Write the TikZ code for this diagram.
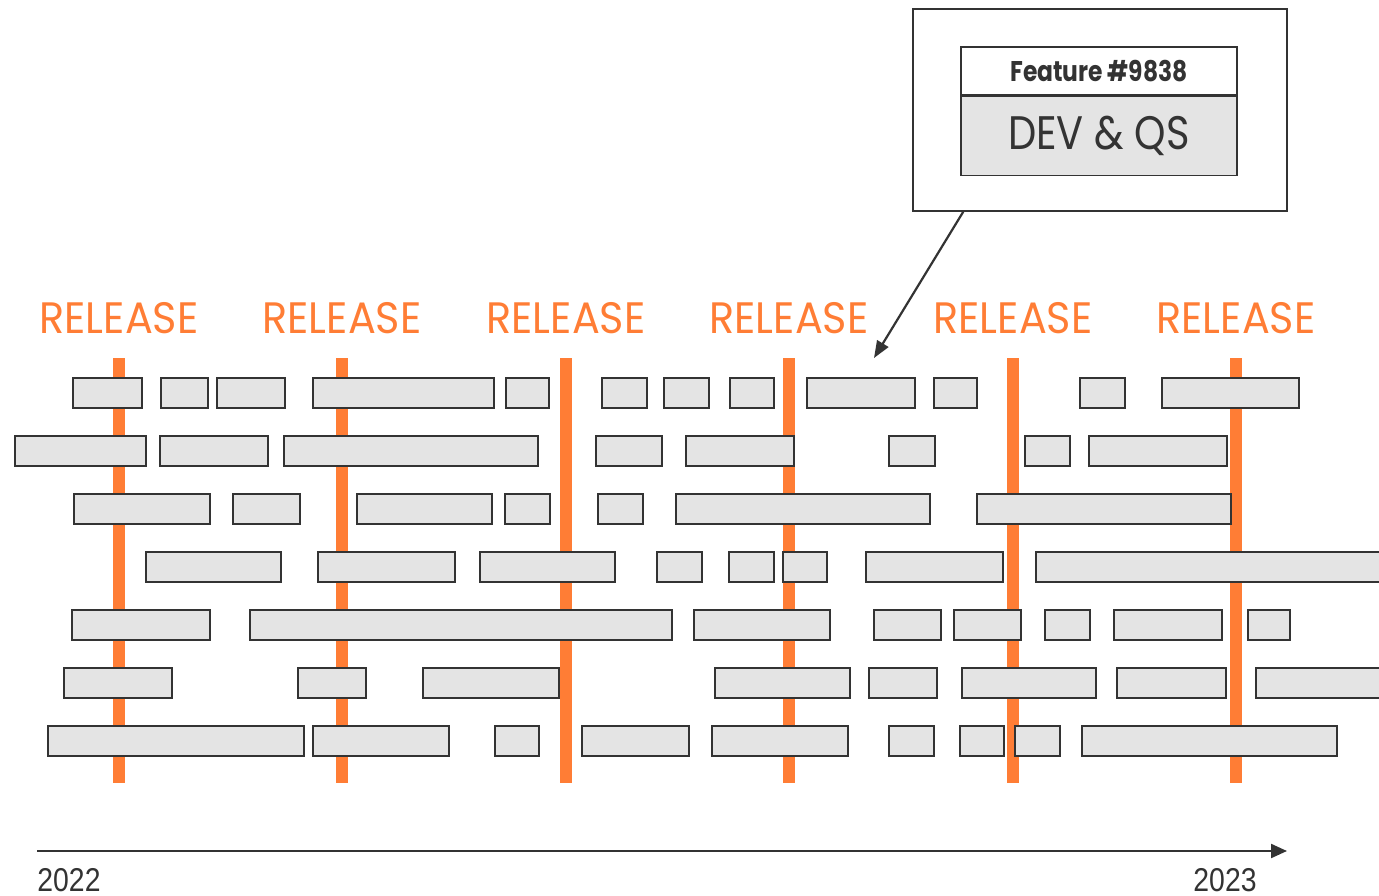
\documentclass[tikz,border=0pt]{standalone}
\usepackage{fontspec}
\usetikzlibrary{arrows.meta,positioning}
\newfontfamily\relfont[FakeStretch=0.94]{Poppins}
\newfontfamily\devfont[FakeStretch=0.85]{Poppins}
\newfontfamily\featfont[FakeStretch=0.82]{Poppins}
\newfontfamily\yearfont[FakeStretch=0.86]{Liberation Sans}
\definecolor{relorange}{HTML}{FF7D35}
\definecolor{darkline}{HTML}{333333}
\definecolor{barfill}{HTML}{E4E4E4}
\tikzset{every picture/.append style={x=1pt,y=-1pt}}

\begin{document}
\begin{tikzpicture}
  \tikzstyle{bar}=[rectangle,draw=darkline,fill=barfill,line width=1.5pt,inner sep=0pt,minimum height=30pt]
  \tikzstyle{release}=[relorange,line width=12pt]
  \tikzstyle{reltext}=[relorange,anchor=base,inner sep=0pt,font=\relfont\fontsize{44}{44}\selectfont]
  \tikzstyle{year}=[darkline,anchor=base,inner sep=0pt,font=\yearfont\fontsize{33}{33}\selectfont]
  \useasboundingbox (0,0) rectangle (1379,896);
  % release lines and labels
  \foreach \x in {119,342,566,789,1013,1236} {
    \coordinate (top\x) at (\x,358);
    \coordinate (bot\x) at (\x,783);
    \draw[release] (top\x) -- (bot\x);
    \node[reltext] at (\x,333) (rel\x) {RELEASE};
  }
  % feature bars, one row per line
  \foreach \y/\bars in {
    393/{73/142,161/208,217/285,313/494,506/549,602/647,664/709,730/774,807/915,934/977,1080/1125,1162/1299},
    451/{15/146,160/268,284/538,596/662,686/794,889/935,1025/1070,1089/1227},
    509/{74/210,233/300,357/492,505/550,598/643,676/930,977/1231},
    567/{146/281,318/455,480/615,657/702,729/774,783/827,866/1003,1036/1400},
    625/{72/210,250/672,694/830,874/941,954/1021,1045/1090,1114/1222,1248/1290},
    683/{64/172,298/366,423/559,715/850,869/937,962/1096,1117/1226,1256/1400},
    741/{48/304,313/449,495/539,582/689,712/848,889/934,960/1004,1015/1060,1082/1337}} {
    \foreach \a/\b in \bars {
      \node[bar,minimum width={(\b-\a)*1pt}] at ({(\a+\b)/2},\y) (bar-\y-\a) {};
    }
  }
  % callout
  \node[rectangle,draw=darkline,fill=white,line width=1.5pt,minimum width=374pt,minimum height=202pt] at (1100,110) (callout) {};
  \node[rectangle,draw=darkline,fill=white,line width=1.5pt,minimum width=276pt,minimum height=48pt,inner sep=0pt,
        text=darkline,font=\featfont\bfseries\fontsize{28.5}{28.5}\selectfont] at (1099,71) (head) {Feature \#9838};
  \node[rectangle,draw=darkline,fill=barfill,line width=1.5pt,minimum width=276pt,minimum height=79pt,inner sep=0pt,
        text=darkline,font=\devfont\fontsize{47}{47}\selectfont,below=0pt of head] (body) {DEV \& QS};
  \coordinate (tip) at (874,358);
  \draw[darkline,line width=2.2pt,-{Triangle[length=17pt,width=13pt]}] ([xshift=51pt]callout.south west) -- (tip);
  % time axis
  \coordinate (t0) at (37,851);
  \coordinate (t1) at (1287,851);
  \draw[darkline,line width=2.2pt,-{Triangle[length=16pt,width=14pt]}] (t0) -- (t1);
  \node[year] at (69,891) (y0) {2022};
  \node[year] at (1225,891) (y1) {2023};
\end{tikzpicture}
\end{document}
